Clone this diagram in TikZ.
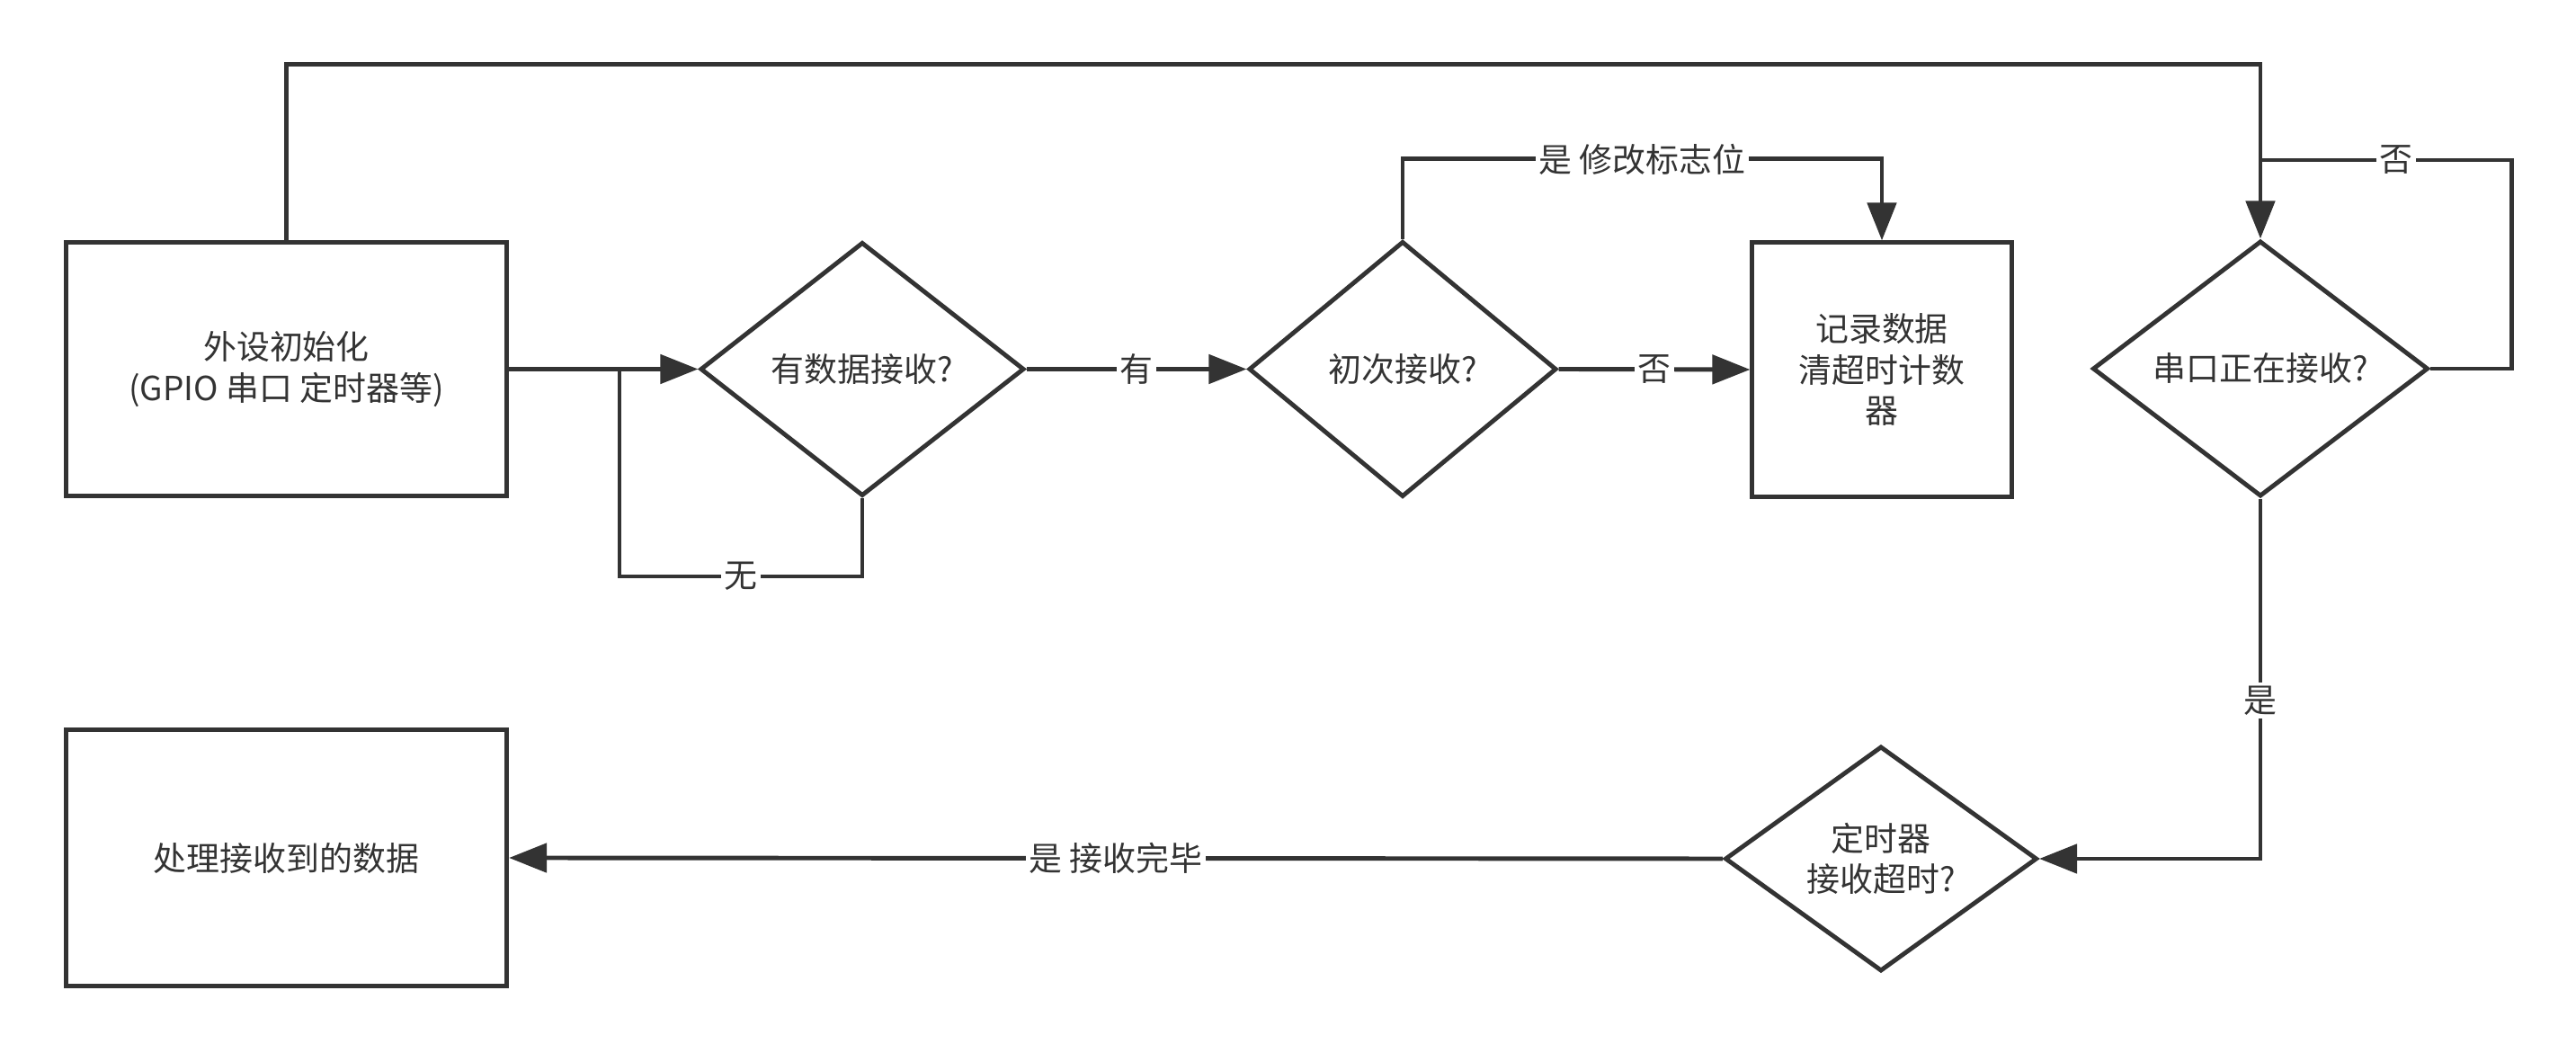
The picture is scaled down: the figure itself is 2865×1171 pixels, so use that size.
\documentclass[tikz,border=0pt]{standalone}
\usepackage{fontspec}
\setmainfont{Noto Sans CJK SC}
\usetikzlibrary{shapes.geometric,arrows.meta}
\definecolor{ink}{HTML}{333333}
\begin{document}
\begin{tikzpicture}[x=0.01cm,y=-0.01cm,
  every node/.style={font=\fontsize{10.5pt}{13pt}\selectfont, text=ink},
  box/.style={draw=ink, line width=1.4pt, rectangle, align=center, inner sep=0pt},
  dec/.style={draw=ink, line width=1.4pt, diamond, align=center, inner sep=0pt},
  conn/.style={draw=ink, line width=1.4pt},
  arr/.style={conn, -{Triangle[length=0.42cm,width=0.32cm]}},
  lbl/.style={fill=white, inner sep=1pt}]
\useasboundingbox (0,0) rectangle (2865,1171);

\node[box, minimum width=4.9cm, minimum height=2.82cm] (init) at (318.5,410.5) {外设初始化\\(GPIO 串口 定时器等)};
\node[dec, minimum width=3.6cm, minimum height=2.82cm] (d1) at (959,410.5) {有数据接收?};
\node[dec, minimum width=3.42cm, minimum height=2.84cm] (d2) at (1560,410.5) {初次接收?};
\node[box, minimum width=2.88cm, minimum height=2.82cm] (rec) at (2093,411) {记录数据\\清超时计数\\器};
\node[dec, minimum width=3.73cm, minimum height=2.84cm] (d3) at (2514,410) {串口正在接收?};
\node[dec, minimum width=3.47cm, minimum height=2.5cm] (d4) at (2092,955) {定时器\\接收超时?};
\node[box, minimum width=4.9cm, minimum height=2.84cm] (proc) at (318.5,954) {处理接收到的数据};

\coordinate (j1) at (689,410.5);
\coordinate (j2) at (2514,178);

\draw[arr] (init.east) -- (d1.west);
\draw[conn] (d1.south) -- ++(0,87) -| node[lbl,pos=0.25]{无} (j1);
\draw[arr] (d1.east) -- node[lbl]{有} (d2.west);
\draw[arr] (d2.east) -- node[lbl]{否} (rec.west);
\draw[arr] (d2.north) -- ++(0,-89) -| node[lbl,pos=0.25]{是 修改标志位} (rec.north);
\draw[arr] (init.north) -- ++(0,-195) -| (d3.north);
\draw[conn] (d3.east) -- ++(90,0) |- node[lbl,pos=0.73]{否} (j2);
\draw[arr] (d3.south) |- node[lbl,pos=0.28]{是} (d4.east);
\draw[arr] (d4.west) -- node[lbl]{是 接收完毕} (proc.east);
\end{tikzpicture}
\end{document}
